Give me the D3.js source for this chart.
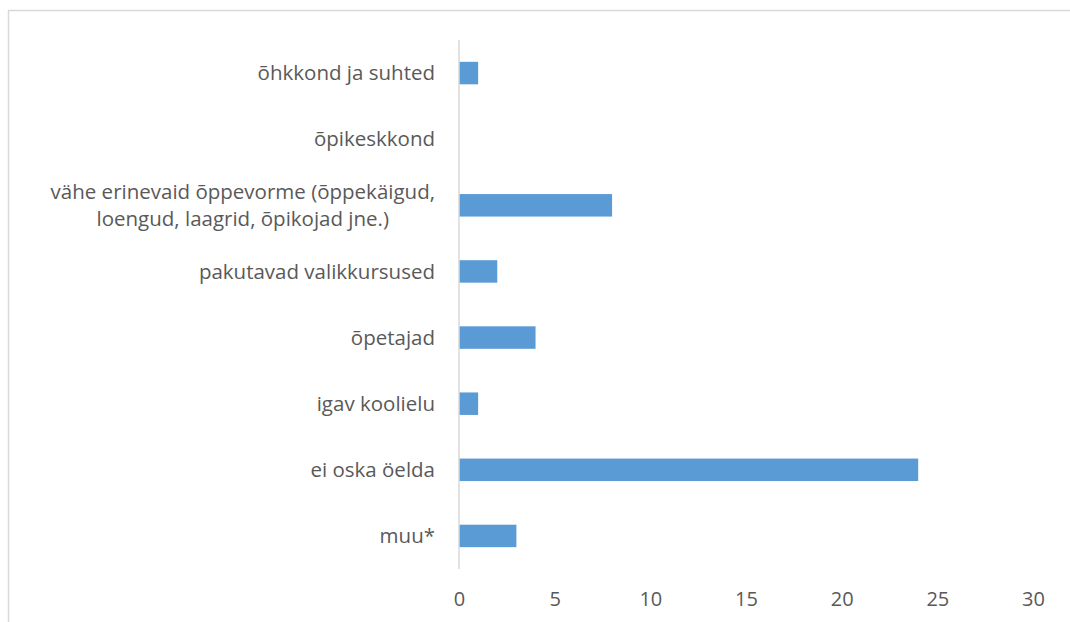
<!DOCTYPE html>
<html>
<head>
<meta charset="utf-8">
<script src="https://cdn.jsdelivr.net/npm/d3@7"></script>
<style>
  body { margin: 0; background: #fff; }
  text { font-family: "Open Sans", sans-serif; fill: #595959; }
</style>
</head>
<body>
<div id="chart"></div>
<script>
var categories = [
  "õhkkond ja suhted",
  "õpikeskkond",
  "vähe erinevaid õppevorme (õppekäigud,|loengud, laagrid, õpikojad jne.)",
  "pakutavad valikkursused",
  "õpetajad",
  "igav koolielu",
  "ei oska öelda",
  "muu*"
];
var values = [1, 0, 8, 2, 4, 1, 24, 3];
var xTicks = [0, 5, 10, 15, 20, 25, 30];

renderChart();

function renderChart() {
  var width = 1070;
  var height = 622;

  var svg = d3.select("#chart")
    .append("svg")
    .attr("width", width)
    .attr("height", height);

  // chart frame (cropped on the right and bottom)
  svg.append("rect")
    .attr("x", 8.5)
    .attr("y", 10.5)
    .attr("width", width)
    .attr("height", height)
    .attr("fill", "none")
    .attr("stroke", "#d9d9d9")
    .attr("stroke-width", 1.5);

  var x = d3.scaleLinear()
    .domain([0, 30])
    .range([459, 1033]);

  var y = d3.scaleBand()
    .domain(categories)
    .range([40, 569])
    .paddingInner(0.66)
    .paddingOuter(0.33);

  svg.append("g")
    .selectAll("rect")
    .data(values)
    .enter().append("rect")
    .attr("x", x(0))
    .attr("y", function(d, i) { return y(categories[i]); })
    .attr("width", function(d) { return x(d) - x(0); })
    .attr("height", y.bandwidth())
    .attr("fill", "#5b9bd5");

  // vertical axis line
  svg.append("line")
    .attr("x1", x(0))
    .attr("x2", x(0))
    .attr("y1", 40)
    .attr("y2", 569)
    .attr("stroke", "#d9d9d9")
    .attr("stroke-width", 1.5);

  // category labels
  var labels = svg.append("g")
    .selectAll("text")
    .data(categories)
    .enter().append("text")
    .attr("font-size", "20.5px")
    .attr("y", function(d) { return y(d) + y.bandwidth() / 2; });

  labels.each(function(d) {
    var t = d3.select(this);
    var lines = d.split("|");
    var cy = y(d) + y.bandwidth() / 2;
    if (lines.length === 1) {
      t.attr("x", 435).attr("text-anchor", "end").attr("dy", "0.35em").text(d);
    } else {
      var lh = 27;
      lines.forEach(function(l, i) {
        t.append("tspan")
          .attr("x", 0)
          .attr("y", cy + (i - (lines.length - 1) / 2) * lh)
          .attr("dy", "0.35em")
          .text(l);
      });
      var w = this.getBBox().width;
      t.attr("text-anchor", "middle");
      t.selectAll("tspan").attr("x", 435 - w / 2);
    }
  });

  // x axis tick labels
  var xAxis = d3.axisBottom(x)
    .tickValues(xTicks)
    .tickSize(0)
    .tickPadding(0);

  var gx = svg.append("g")
    .attr("transform", "translate(0,599)")
    .call(xAxis);
  gx.select(".domain").remove();
  gx.selectAll("text")
    .attr("font-family", "Open Sans, sans-serif")
    .attr("font-size", "20px")
    .attr("fill", "#595959")
    .attr("dy", "0.35em")
    .attr("y", 0);
}
</script>
</body>
</html>
